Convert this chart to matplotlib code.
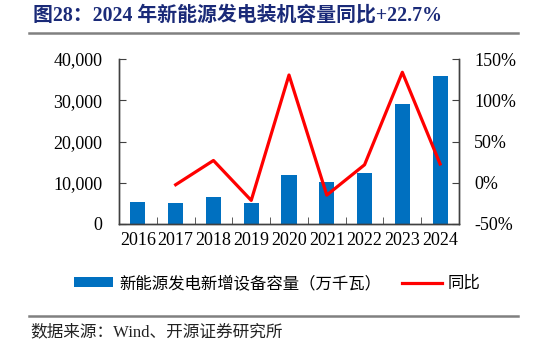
import matplotlib
matplotlib.use("Agg")
import matplotlib.pyplot as plt
import numpy as np
from matplotlib.patches import Patch
from matplotlib.lines import Line2D
from matplotlib.ticker import FuncFormatter

years = ["2016", "2017", "2018", "2019", "2020", "2021", "2022", "2023", "2024"]
capacity = [5240, 5080, 6530, 5080, 11930, 10160, 12420, 29200, 35800]
yoy = [np.nan, -2.4, 27.0, -21.4, 130.6, -15.0, 21.8, 133.9, 22.7]

title = "图28：2024 年新能源发电装机容量同比+22.7%"
bar_label = "新能源发电新增设备容量（万千瓦）"
line_label = "同比"
source = "数据来源：Wind、开源证券研究所"

FAM = ["Liberation Serif", "Noto Sans CJK SC", "DejaVu Sans"]
plt.rcParams["font.family"] = FAM

fig = plt.figure(figsize=(5.46, 3.45), dpi=100)
ax = fig.add_axes([119/546, 1-224/345, (459-119)/546, (224-59)/345])
ax2 = ax.twinx()

x = np.arange(len(years))
ax.bar(x, capacity, width=0.4, color="#0070C0", zorder=2)
ax2.plot(x, yoy, color="#FF0000", lw=2.3, zorder=3)

ax.set_xlim(-0.5, len(years) - 0.5)
ax.set_ylim(0, 40000)
ax.set_yticks([0, 10000, 20000, 30000, 40000])
ax.yaxis.set_major_formatter(FuncFormatter(lambda v, p: f"{int(v):,}"))
ax2.set_ylim(-50, 150)
ax2.set_yticks([-50, 0, 50, 100, 150])
ax2.yaxis.set_major_formatter(FuncFormatter(lambda v, p: f"{int(v)}%"))

ax.set_xticks(x)
ax.set_xticklabels(years)
ax.set_xticks(np.arange(-0.5, len(years), 1.0), minor=True)
ax.tick_params(axis="x", which="major", length=0, labelsize=13, pad=6)
ax.tick_params(axis="x", which="minor", length=5, direction="in", color="#404040")
ax.tick_params(axis="y", length=5, direction="in", labelsize=13, color="#404040", pad=12)
ax2.tick_params(axis="y", length=5, direction="in", labelsize=13, color="#404040", pad=11)

for a in (ax, ax2):
    a.spines["top"].set_visible(False)
    for s in ("left", "right", "bottom"):
        a.spines[s].set_color("#404040")
        a.spines[s].set_linewidth(1.0)
ax.set_zorder(ax2.get_zorder() - 1)
ax2.patch.set_visible(False)
ax.patch.set_visible(False)

# title
fig.text(33/546, 1-16/345, title, fontsize=14.3, fontweight="bold", color="#1a2a78",
         va="center", ha="left", family=FAM)
fig.add_artist(Line2D([29/546, 518/546], [1-33/345, 1-33/345], color="#808080", lw=1.8,
                      transform=fig.transFigure))

# legend
handles = [Patch(facecolor="#0070C0", edgecolor="none", label=bar_label),
           Line2D([0], [0], color="#FF0000", lw=2.3, label=line_label)]
fig.legend(handles=handles, loc="center", bbox_to_anchor=(277/546, 1-284/345), ncol=2,
           frameon=False, handlelength=2.4, handleheight=0.55,
           handletextpad=0.35, columnspacing=1.3, prop={"family": FAM, "size": 11.8})

fig.add_artist(Line2D([29/546, 518/546], [1-316/345, 1-316/345], color="#808080", lw=1.8,
                      transform=fig.transFigure))
fig.text(30/546, 1-332/345, source, fontsize=12, color="#222222", va="center", ha="left",
         family=FAM)

fig.savefig("out.png", dpi=100)
